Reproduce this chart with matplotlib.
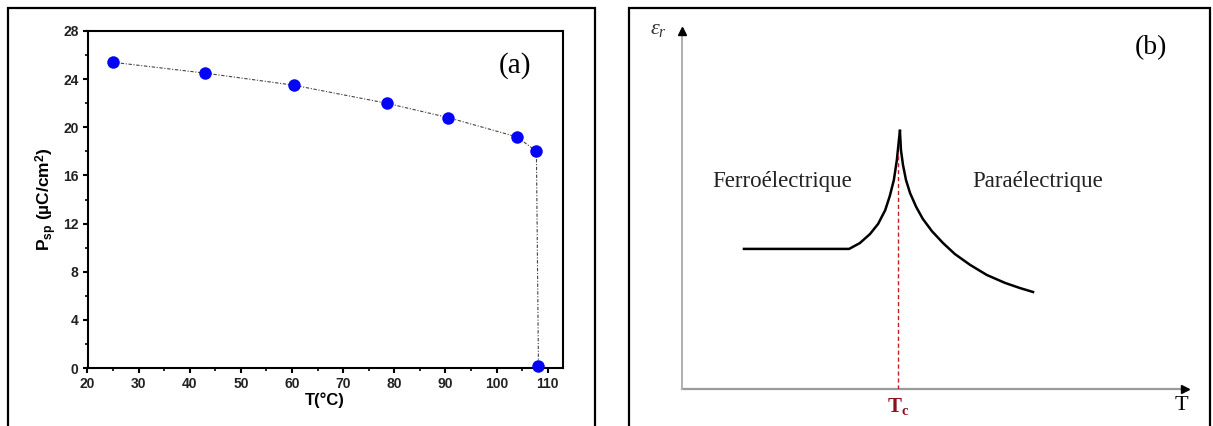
import matplotlib
matplotlib.use("Agg")
import matplotlib.pyplot as plt
from matplotlib.patches import Rectangle
from matplotlib.ticker import MultipleLocator

plt.rcParams["mathtext.fontset"] = "custom"
plt.rcParams["mathtext.bf"] = "Liberation Sans:bold"
plt.rcParams["mathtext.it"] = "Liberation Serif:italic"
plt.rcParams["mathtext.rm"] = "Liberation Serif"
plt.rcParams["mathtext.sf"] = "Liberation Serif:bold"

# ---- panel (a): spontaneous polarisation vs temperature ----
temp_c = [25.0, 43.0, 60.3, 78.5, 90.6, 104.0, 107.8, 108.2]
p_sp = [25.4, 24.5, 23.5, 22.0, 20.8, 19.2, 18.0, 0.2]

# ---- panel (b): schematic permittivity around Tc (arbitrary units) ----
ferro_x = [12.2, 32.9, 35.0, 37.0, 38.6, 40.0, 40.9, 41.7, 42.3, 42.7, 42.9]
ferro_y = [38.7, 38.7, 40.3, 42.8, 45.6, 49.4, 53.3, 57.7, 63.3, 68.8, 71.3]
para_x = [42.9, 43.1, 43.5, 44.1, 44.9, 46.1, 47.4, 49.2, 51.4, 53.7, 56.7,
          60.0, 63.6, 66.5, 69.1]
para_y = [71.3, 66.0, 61.9, 57.7, 54.1, 50.3, 47.0, 43.6, 40.3, 37.3, 34.3,
          31.5, 29.3, 27.9, 26.8]
tc_x = 42.5
tc_top = 65.5

W, H = 1213, 426
fig = plt.figure(figsize=(W / 100, H / 100), dpi=100)

# outer frames
for x0, x1 in [(8, 595), (629, 1210)]:
    fig.add_artist(Rectangle((x0 / W, -0.02), (x1 - x0) / W, 1.02 - 8 / H,
                             transform=fig.transFigure, fill=False,
                             lw=1.6, ec="black"))

# ---------------- (a) ----------------
axa = fig.add_axes([87.5 / W, 1 - 368 / H, (563 - 87.5) / W, (368 - 31) / H])
axa.plot(temp_c, p_sp, color="#444444", lw=0.8, ls=(0, (3, 1.5, 1, 1.5)), zorder=2)
axa.plot(temp_c, p_sp, "o", color="#0505f5", ms=9, mec="none", zorder=3,
         clip_on=False)
axa.set_xlim(20, 113)
axa.set_ylim(0, 28)
axa.xaxis.set_major_locator(MultipleLocator(10))
axa.xaxis.set_minor_locator(MultipleLocator(5))
axa.yaxis.set_major_locator(MultipleLocator(4))
axa.yaxis.set_minor_locator(MultipleLocator(2))
for s in axa.spines.values():
    s.set_linewidth(1.5)
axa.tick_params(which="major", direction="out", length=3.5, width=1.5,
                labelsize=10, pad=3)
axa.tick_params(which="minor", direction="out", length=2, width=1.2)
for lab in axa.get_xticklabels() + axa.get_yticklabels():
    lab.set_fontweight("bold")
    lab.set_fontfamily("Liberation Sans")
    lab.set_color("#222222")
axa.set_xlabel("T(°C)", fontsize=12, fontweight="bold",
               fontfamily="Liberation Sans", labelpad=1)
axa.set_ylabel(r"P$_\mathbf{sp}$ (µC/cm$^\mathbf{2}$)", fontsize=12.5,
               fontweight="bold", fontfamily="Liberation Sans", labelpad=3)
axa.text(103.7, 25.1, "(a)", fontsize=21, fontfamily="Liberation Serif",
         ha="center", va="center")

# ---------------- (b) ----------------
axb = fig.add_axes([682 / W, 1 - 389 / H, (1190 - 682) / W, (389 - 27) / H])
axb.set_xlim(0, 100)
axb.set_ylim(0, 100)
axb.axis("off")
axb.plot([0, 98.5], [0, 0], color="#9a9a9a", lw=1.6, clip_on=False)
axb.plot([0, 0], [0, 98], color="#b0b0b0", lw=1.4, clip_on=False)
axb.plot([99.0], [0], marker=">", color="black", ms=6, clip_on=False)
axb.plot([0], [98.8], marker="^", color="black", ms=6, clip_on=False)

axb.plot(ferro_x, ferro_y, color="black", lw=1.8, solid_joinstyle="round")
axb.plot(para_x, para_y, color="black", lw=1.8, solid_joinstyle="round")
axb.plot([tc_x, tc_x], [0, tc_top], color="#c0202a", lw=1.0, ls=(0, (3, 2)))

axb.text(19.7, 57.2, "Ferroélectrique", fontsize=16.5,
         fontfamily="Liberation Serif", ha="center", va="center", color="#222222")
axb.text(70.1, 57.2, "Paraélectrique", fontsize=16.5,
         fontfamily="Liberation Serif", ha="center", va="center", color="#222222")
axb.text(92.3, 94.2, "(b)", fontsize=20, fontfamily="Liberation Serif",
         ha="center", va="center")
axb.text(98.4, -4.6, "T", fontsize=16, fontfamily="Liberation Serif",
         ha="center", va="center")
axb.text(-4.6, 99.5, r"$\varepsilon_r$", fontsize=16, ha="center", va="center",
         color="#333333")
axb.text(tc_x, -4.8, r"$\mathsf{T_c}$", fontsize=15, ha="center", va="center",
         color="#8b1020")

fig.savefig("out.png", dpi=100)
